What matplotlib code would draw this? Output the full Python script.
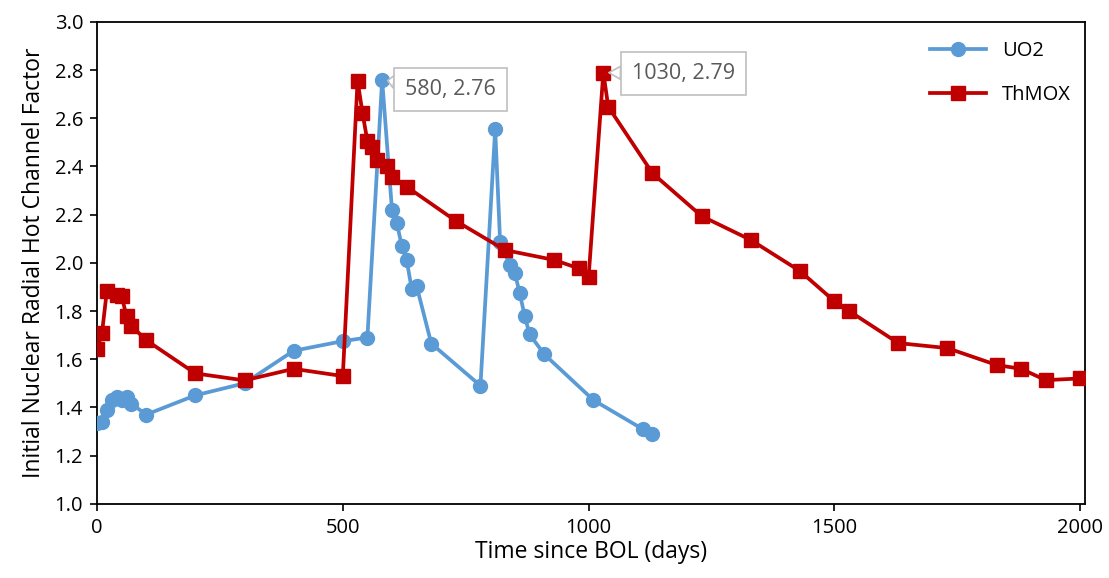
import matplotlib
matplotlib.use("Agg")
import matplotlib.pyplot as plt

uo2_days = [0, 10, 20, 30, 40, 50, 60, 70, 100, 200, 300, 400, 500, 550, 580,
            600, 610, 620, 630, 640, 650, 680, 780, 810, 820, 840, 850, 860,
            870, 880, 910, 1010, 1110, 1130]
uo2_vals = [1.335, 1.34, 1.39, 1.43, 1.445, 1.43, 1.445, 1.415, 1.37, 1.45,
            1.50, 1.635, 1.675, 1.69, 2.76, 2.22, 2.165, 2.07, 2.01, 1.893,
            1.905, 1.665, 1.49, 2.555, 2.087, 1.99, 1.958, 1.873, 1.78, 1.703,
            1.62, 1.43, 1.31, 1.29]

thmox_days = [0, 10, 20, 40, 50, 60, 70, 100, 200, 300, 400, 500, 530, 540,
              550, 560, 570, 590, 600, 630, 730, 830, 930, 980, 1000, 1030,
              1040, 1130, 1230, 1330, 1430, 1500, 1530, 1630, 1730, 1830,
              1880, 1930, 2000]
thmox_vals = [1.642, 1.707, 1.884, 1.866, 1.862, 1.779, 1.738, 1.679, 1.541,
              1.512, 1.56, 1.53, 2.756, 2.623, 2.506, 2.48, 2.427, 2.402,
              2.355, 2.316, 2.174, 2.053, 2.012, 1.977, 1.94, 2.79, 2.648,
              2.372, 2.194, 2.095, 1.966, 1.841, 1.80, 1.667, 1.646, 1.576,
              1.56, 1.513, 1.52]

x_ticks = [0, 500, 1000, 1500, 2000]
y_ticks = [1.0, 1.2, 1.4, 1.6, 1.8, 2.0, 2.2, 2.4, 2.6, 2.8, 3.0]

plt.rcParams['font.family'] = ['Open Sans', 'DejaVu Sans']

fig = plt.figure(figsize=(11.09, 5.78), dpi=100)
ax = fig.add_axes([0.0875, 0.1285, 0.8909, 0.8335])

ax.plot(uo2_days, uo2_vals, color='#5B9BD5', lw=2.7, marker='o', ms=10,
        label='UO2', zorder=3)
ax.plot(thmox_days, thmox_vals, color='#C00000', lw=2.7, marker='s', ms=10,
        label='ThMOX', zorder=3)

ax.set_xlim(0, 2010)
ax.set_ylim(1.0, 3.0)
ax.set_xticks(x_ticks)
ax.set_yticks(y_ticks)
ax.set_yticklabels([f"{v:.1f}" for v in y_ticks])
ax.tick_params(direction='out', length=5, width=1.2, labelsize=14.5,
               colors='black', pad=5)
for s in ax.spines.values():
    s.set_linewidth(1.3)
    s.set_color('black')

ax.set_xlabel('Time since BOL (days)', fontsize=16.5, labelpad=2)
ax.set_ylabel('Initial Nuclear Radial Hot Channel Factor', fontsize=16.5,
              labelpad=6)

leg = ax.legend(loc='upper right', frameon=False, fontsize=14.5,
                handlelength=2.8, labelspacing=1.2,
                bbox_to_anchor=(1.0, 0.99), borderaxespad=0.3)

box = dict(boxstyle='square,pad=0.5', fc='white', ec='#BFBFBF', lw=1.2)
for (dx, dy), (tx, ty) in [((580, 2.76), (627, 2.72)), ((1030, 2.79), (1088, 2.785))]:
    ax.annotate(f"{dx}, {dy:.2f}", xy=(dx, dy), xytext=(tx, ty),
                fontsize=15.5, color='#595959', va='center', ha='left',
                bbox=box, zorder=5,
                arrowprops=dict(arrowstyle='wedge,tail_width=0.6',
                                fc='white', ec='#BFBFBF', lw=1.2,
                                shrinkA=0, shrinkB=4))

fig.savefig('out.png', dpi=100)
